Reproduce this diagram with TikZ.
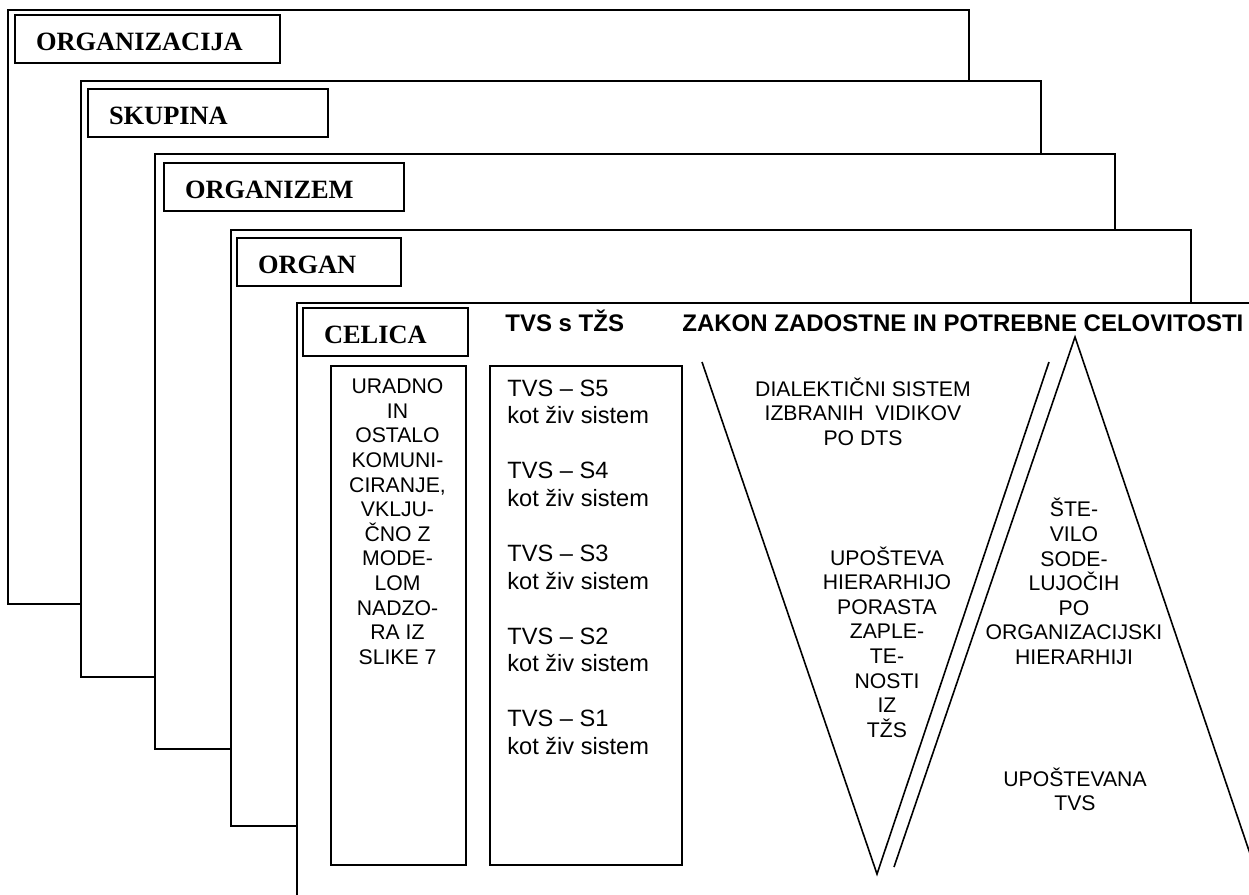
\documentclass[tikz,border=0pt]{standalone}
\usepackage{fontspec}
\setmainfont{Liberation Serif}
\setsansfont{Liberation Sans}
\usetikzlibrary{positioning}

\begin{document}
\begin{tikzpicture}[
  x=0.5pt, y=-0.5pt,
  frame/.style={draw, fill=white, line width=1pt},
  lbl/.style={draw, fill=white, line width=1pt, anchor=north west,
              inner xsep=10.5pt, inner ysep=0pt, minimum height=24pt,
              text height=11.7pt, text depth=0pt, align=left,
              font=\fontsize{13.2}{14}\selectfont\bfseries},
  colbox/.style={draw, line width=0.8pt, anchor=north west, inner sep=0pt,
                 minimum height=249.5pt},
  txt/.style={align=center, inner sep=0pt,
              font=\sffamily\fontsize{10.6}{12.3}\selectfont},
  head/.style={anchor=base west, inner sep=0pt,
               font=\sffamily\bfseries\fontsize{12}{14}\selectfont},
  side/.style={line width=0.8pt},
]
\useasboundingbox (0,0) rectangle (1249,895);
\clip (0,0) rectangle (1249,895);

% nested levels
\draw[frame] (8,10) rectangle (969,604);
\node[lbl, text width=111.5pt] (orgLbl) at (14,14) {ORGANIZACIJA};
\draw[frame] (81,81) rectangle (1041,677);
\node[lbl, text width=99pt] (grpLbl) at (87,88) {SKUPINA};
\draw[frame] (155,154) rectangle (1115,749);
\node[lbl, text width=99pt] (orgmLbl) at (163,162) {ORGANIZEM};
\draw[frame] (231,230) rectangle (1191,826);
\node[lbl, text width=61pt] (organLbl) at (236,237) {ORGAN};
\draw[frame] (297,303) rectangle (1270,910);
\node[lbl, text width=61.5pt] (celLbl) at (302,307) {CELICA};

% columns
\node[head] (tvsHead) at (505,331) {TVS s TŽS};
\node[head] (lawHead) at (682,331) {ZAKON ZADOSTNE IN POTREBNE CELOVITOSTI};
\node[colbox, minimum width=67.5pt] (commBox) at (330,365) {};
\node[colbox, minimum width=96pt] (tvsBox) at (489,365) {};
\node[txt, anchor=north] (commTxt) at (397.5,378.5)
  {URADNO\\IN\\OSTALO\\KOMUNI-\\CIRANJE,\\VKLJU-\\ČNO Z\\MODE-\\LOM\\NADZO-\\RA IZ\\SLIKE 7};
\node[txt, anchor=north west, align=left,
      font=\sffamily\fontsize{11.8}{13.8}\selectfont] (tvsTxt) at (507,379.5)
  {TVS – S5\\kot živ sistem\\[13.7pt]
   TVS – S4\\kot živ sistem\\[13.7pt]
   TVS – S3\\kot živ sistem\\[13.7pt]
   TVS – S2\\kot živ sistem\\[13.7pt]
   TVS – S1\\kot živ sistem};

% the two wedges
\coordinate (vL) at (702,362);
\coordinate (vR) at (1049,362);
\coordinate (vTip) at (877,874);
\coordinate (aTop) at (1075,337);
\coordinate (aL) at (894,867);
\coordinate (aR) at (1264,895);
\draw[side] (vL) -- (vTip) -- (vR);
\draw[side] (aL) -- (aTop) -- (aR);

\node[txt] (dtsTxt) at (863,411.5)
  {DIALEKTIČNI SISTEM\\IZBRANIH\ \ VIDIKOV\\PO DTS};
\node[txt] (hierTxt) at (887,642)
  {UPOŠTEVA\\HIERARHIJO\\PORASTA\\ZAPLE-\\TE-\\NOSTI\\IZ\\TŽS};
\node[txt] (partTxt) at (1074,581.5)
  {ŠTE-\\VILO\\SODE-\\LUJOČIH\\PO\\ORGANIZACIJSKI\\HIERARHIJI};
\node[txt] (usedTxt) at (1075,789.5) {UPOŠTEVANA\\TVS};
\end{tikzpicture}
\end{document}
